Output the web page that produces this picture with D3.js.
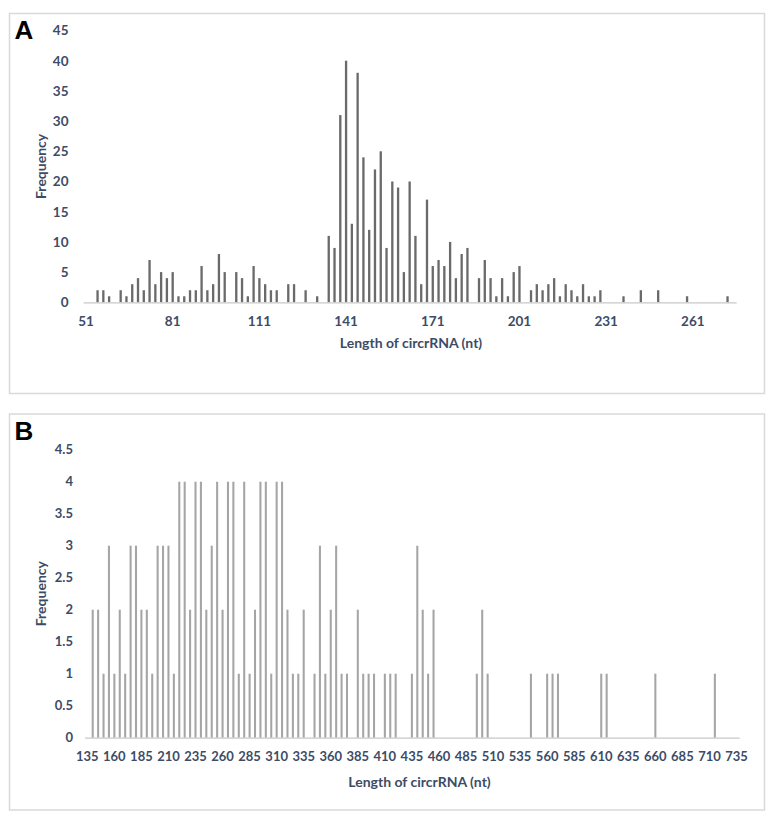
<!DOCTYPE html>
<html><head><meta charset="utf-8">
<script src="https://cdn.jsdelivr.net/npm/d3@7/dist/d3.min.js"></script>
<style>
html,body{margin:0;padding:0;background:#fff;}
svg{display:block;}
</style></head>
<body>
<svg id="chart" width="776" height="824"></svg>
<script>
// ---------- Panel A data: length bins (step 2) ----------
const lengthsA = d3.range(51, 277, 2);
const freqA = [
  0,0,2,2,1,0,2,1,3,4,      // 51..69
  2,7,3,5,4,5,1,1,2,2,      // 71..89
  6,2,3,8,5,0,5,4,1,6,      // 91..109
  4,3,2,2,0,3,3,0,2,0,      // 111..129
  1,0,11,9,31,40,13,38,24,12, // 131..149
  22,25,9,20,19,5,20,11,3,17, // 151..169
  6,7,6,10,4,8,9,0,4,7,     // 171..189
  4,1,4,1,5,6,0,2,3,2,      // 191..209
  3,4,1,3,2,1,3,1,1,2,      // 211..229
  0,0,0,1,0,0,2,0,0,2,      // 231..249
  0,0,0,0,1,0,0,0,0,0,      // 251..269
  0,1,0                     // 271..275
];
const yTicksA = [0,5,10,15,20,25,30,35,40,45];
const xLabelsA = [51,81,111,141,171,201,231,261];

// ---------- Panel B data: length bins (step 5) ----------
const lengthsB = d3.range(135, 740, 5);
const freqB = [
  0,2,2,1,3,1,2,1,3,3,      // 135..180
  2,2,1,3,3,3,1,4,4,2,      // 185..230
  4,4,2,3,4,2,4,4,1,4,      // 235..280
  1,2,4,4,1,4,4,2,1,1,      // 285..330
  2,0,1,3,1,2,3,1,1,0,      // 335..380
  2,1,1,1,0,1,1,1,0,0,      // 385..430
  1,3,2,1,2,0,0,0,0,0,      // 435..480
  0,0,1,2,1,0,0,0,0,0,      // 485..530
  0,0,1,0,0,1,1,1,0,0,      // 535..580
  0,0,0,0,0,1,1,0,0,0,      // 585..630
  0,0,0,0,0,1,0,0,0,0,      // 635..680
  0,0,0,0,0,0,1,0,0,0,      // 685..730
  0                         // 735
];
const yTicksB = [0,0.5,1,1.5,2,2.5,3,3.5,4,4.5];
const xLabelsB = d3.range(135, 740, 25);

const svg = d3.select("#chart");
const textColor = "#3d4c66";
const fontFam = "Lato, 'Open Sans', sans-serif";

function panel(cfg) {
  const g = svg.append("g");
  // frame
  g.append("rect")
    .attr("x", cfg.box[0]).attr("y", cfg.box[1])
    .attr("width", cfg.box[2]).attr("height", cfg.box[3])
    .attr("fill", "#fff").attr("stroke", "#d9d9d9").attr("stroke-width", 1.5);
  // letter
  g.append("text")
    .attr("x", cfg.box[0] + 5).attr("y", cfg.letterY)
    .attr("font-family", "'Liberation Sans', Arial, sans-serif")
    .attr("font-weight", "bold").attr("font-size", 26)
    .attr("fill", "#000").text(cfg.letter);

  const x = d3.scaleBand()
    .domain(cfg.cats)
    .range(cfg.xRange)
    .paddingInner(cfg.pad).paddingOuter(cfg.pad / 2);
  const y = d3.scaleLinear().domain([0, cfg.yMax]).range(cfg.yRange);

  // bars
  g.append("g").selectAll("rect")
    .data(cfg.cats.map((c, i) => ({c, v: cfg.vals[i]})).filter(d => d.v > 0))
    .join("rect")
    .attr("x", d => x(d.c))
    .attr("width", x.bandwidth())
    .attr("y", d => y(d.v))
    .attr("height", d => y(0) - y(d.v))
    .attr("fill", cfg.barColor);

  // x axis
  const xAxis = d3.axisBottom(x)
    .tickValues(cfg.xLabels)
    .tickSize(0).tickPadding(cfg.xPad);
  const xa = g.append("g").attr("transform", `translate(0,${y(0)})`).call(xAxis);
  xa.select(".domain").attr("stroke", "#c8c8c8").attr("stroke-width", 1.3);
  xa.selectAll("text")
    .attr("font-family", fontFam).attr("font-weight", "bold")
    .attr("font-size", cfg.tickFont).attr("fill", textColor);

  // y axis (labels only)
  const yAxis = d3.axisLeft(y)
    .tickValues(cfg.yTicks)
    .tickFormat(d => String(d))
    .tickSize(0).tickPadding(0);
  const ya = g.append("g").attr("transform", `translate(${cfg.yLabelRight},0)`).call(yAxis);
  ya.select(".domain").remove();
  ya.selectAll("text")
    .attr("font-family", fontFam).attr("font-weight", "bold")
    .attr("font-size", cfg.tickFont).attr("fill", textColor);

  // titles
  g.append("text")
    .attr("transform", `translate(${cfg.yTitleX},${(cfg.yRange[0] + cfg.yRange[1]) / 2}) rotate(-90)`)
    .attr("text-anchor", "middle").attr("dominant-baseline", "central")
    .attr("font-family", fontFam).attr("font-weight", "bold")
    .attr("font-size", cfg.titleFont).attr("fill", textColor)
    .text("Frequency");
  g.append("text")
    .attr("x", cfg.xTitleX).attr("y", cfg.xTitleY)
    .attr("text-anchor", "middle").attr("dominant-baseline", "central")
    .attr("font-family", fontFam).attr("font-weight", "bold")
    .attr("font-size", cfg.titleFont).attr("fill", textColor)
    .text("Length of circrRNA (nt)");
}

panel({
  letter: "A", box: [9.5, 13.5, 755, 380], letterY: 39,
  cats: lengthsA, vals: freqA, yMax: 45, yTicks: yTicksA, xLabels: xLabelsA,
  xRange: [83.1, 736.2], yRange: [302.3, 30.5], pad: 0.6,
  barColor: "#6a6a6a", tickFont: 13.5, titleFont: 14,
  xPad: 14, yLabelRight: 68.5, yTitleX: 40, xTitleX: 411, xTitleY: 342
});

panel({
  letter: "B", box: [9.5, 414, 755, 396], letterY: 440,
  cats: lengthsB, vals: freqB, yMax: 4.5, yTicks: yTicksB, xLabels: xLabelsB,
  xRange: [84.6, 739.2], yRange: [737.7, 449.7], pad: 0.62,
  barColor: "#a5a5a5", tickFont: 13, titleFont: 14,
  xPad: 14, yLabelRight: 73, yTitleX: 40, xTitleX: 419.5, xTitleY: 781.7
});
</script>
</body></html>
